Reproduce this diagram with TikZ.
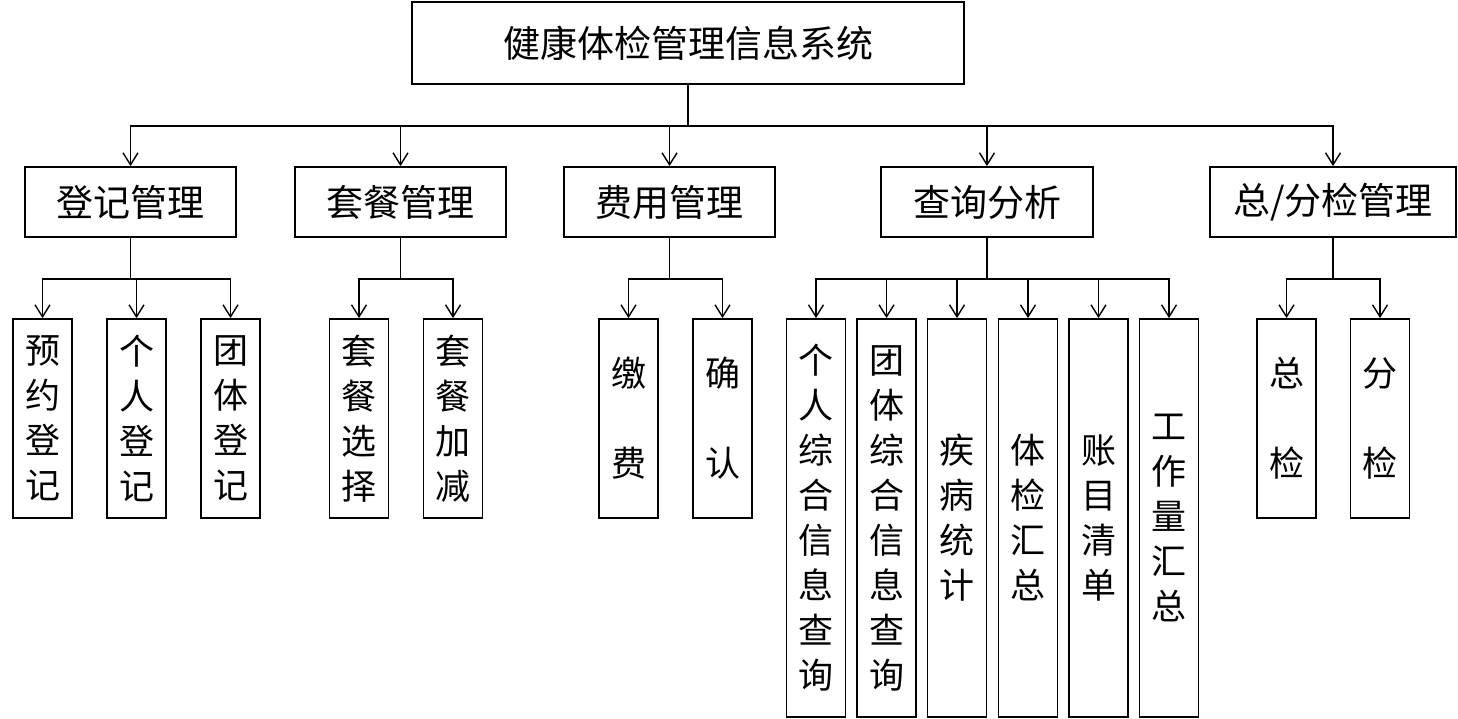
\documentclass[tikz,border=0pt]{standalone}
\usepackage{fontspec}
\newfontfamily\cjk{Noto Sans CJK SC}
\usetikzlibrary{arrows.meta}
\tikzset{
  box/.style={draw, line width=1.8pt, inner sep=0pt, align=center, fill=white},
  topbox/.style={box, minimum width=552, minimum height=82, font=\cjk\fontsize{37}{44}\selectfont},
  midbox/.style={box, minimum height=70, font=\cjk\fontsize{37}{44}\selectfont},
  leaf/.style={box, minimum width=59, minimum height=199, font=\cjk\fontsize{35}{45}\selectfont},
  tall/.style={leaf, minimum height=398},
  arr/.style={line width=1.4pt, -{Straight Barb[length=12pt,width=15pt,line width=1.4pt]}},
  ln/.style={line width=1.4pt}
}
\begin{document}
\begin{tikzpicture}[x=1pt,y=-1pt]
\useasboundingbox (0,0) rectangle (1458,719);
% root
\node[topbox] (root) at (688,43) {健康体检管理信息系统};
% level 1
\node[midbox, minimum width=211] (dj) at (130.5,202) {登记管理};
\node[midbox, minimum width=211] (tc) at (400.5,202) {套餐管理};
\node[midbox, minimum width=211] (fy) at (669.5,202) {费用管理};
\node[midbox, minimum width=212] (cx) at (987,202) {查询分析};
\node[midbox, minimum width=246] (zf) at (1333,202) {总/分检管理};
% level 2
\node[leaf] (dj1) at (42.5,418.5) {预\\约\\登\\记};
\node[leaf] (dj2) at (136.5,418.5) {个\\人\\登\\记};
\node[leaf] (dj3) at (230.5,418.5) {团\\体\\登\\记};
\node[leaf] (tc1) at (359,418.5) {套\\餐\\选\\择};
\node[leaf] (tc2) at (453,418.5) {套\\餐\\加\\减};
\node[leaf] (fy1) at (628.5,418.5) {缴\\[45pt]费};
\node[leaf] (fy2) at (722.5,418.5) {确\\[45pt]认};
\node[tall] (cx1) at (816,518) {个\\人\\综\\合\\信\\息\\查\\询};
\node[tall] (cx2) at (886.5,518) {团\\体\\综\\合\\信\\息\\查\\询};
\node[tall] (cx3) at (957,518) {疾\\病\\统\\计};
\node[tall] (cx4) at (1028,518) {体\\检\\汇\\总};
\node[tall] (cx5) at (1098.5,518) {账\\目\\清\\单};
\node[tall] (cx6) at (1169,518) {工\\作\\量\\汇\\总};
\node[leaf] (zf1) at (1286.5,418.5) {总\\[45pt]检};
\node[leaf] (zf2) at (1380,418.5) {分\\[45pt]检};
% root connectors
\draw[line width=2.6pt] (root.south) -- ++(0,41);
\foreach \c in {dj,tc,fy,cx,zf}
  \draw[arr] (root.south) -- ++(0,41) -| (\c.north);
% level 1 -> level 2
\foreach \p/\cs in {dj/{dj1,dj2,dj3}, tc/{tc1,tc2}, fy/{fy1,fy2}, cx/{cx1,cx2,cx3,cx4,cx5,cx6}, zf/{zf1,zf2}}{
  \foreach \c in \cs
    \draw[arr] (\p.south) -- ++(0,41) -| (\c.north);
}
\end{tikzpicture}
\end{document}
